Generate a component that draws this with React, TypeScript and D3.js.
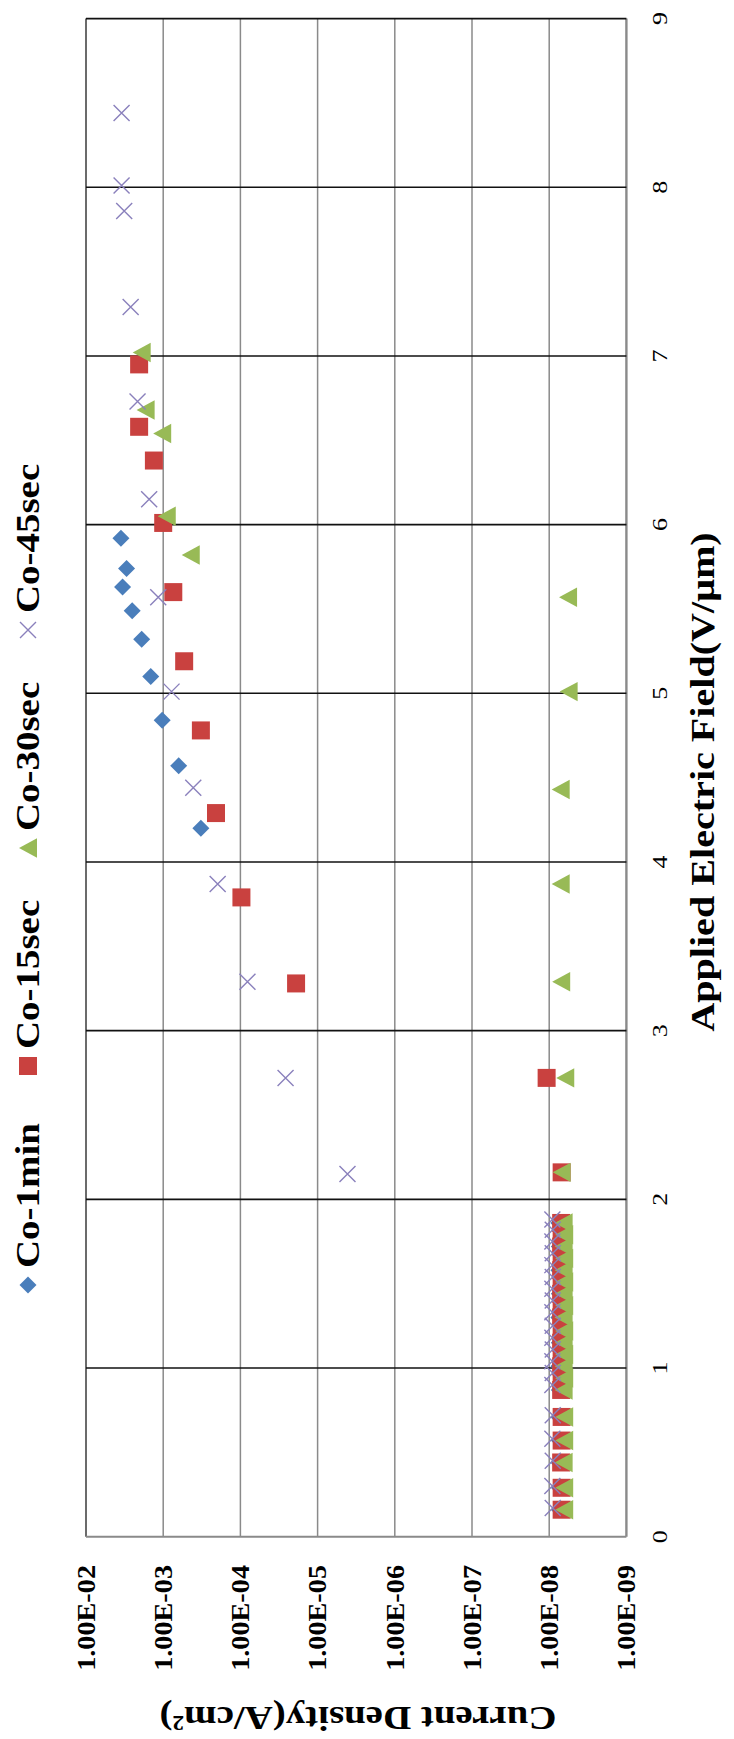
import React, { useEffect } from 'react';
import * as d3 from 'd3';

// Field emission data, Co samples (field V/um, current density A/cm2)
// picture is the Excel chart turned 90 degrees counter-clockwise
const seriesNames = ['Co-1min', 'Co-15sec', 'Co-30sec', 'Co-45sec'];
const seriesColors = ['#4A7EBB', '#C9413F', '#98BA56', '#8A80BC'];

const co1minField = [0.16, 0.29, 0.44, 0.57, 0.71, 0.87, 1.01, 1.15, 1.3, 1.44, 1.58, 1.72, 1.86,
  4.2, 4.57, 4.84, 5.1, 5.32, 5.49, 5.63, 5.74, 5.92];
const co1minJ = [7.4e-9, 7.4e-9, 7.5e-9, 7.4e-9, 7.5e-9, 7.4e-9, 7.5e-9, 7.4e-9, 7.5e-9, 7.4e-9, 7.5e-9, 7.4e-9, 7.5e-9,
  3.25e-4, 6.3e-4, 1.03e-3, 1.45e-3, 1.9e-3, 2.52e-3, 3.36e-3, 2.98e-3, 3.53e-3];

const co15secField = [0.16, 0.29, 0.44, 0.57, 0.71, 0.87, 0.94, 1.01, 1.08, 1.15, 1.22, 1.3, 1.37, 1.44,
  1.51, 1.58, 1.65, 1.72, 1.79, 1.86, 2.16, 2.72, 3.28, 3.79, 4.29, 4.78, 5.19, 5.6, 6.01, 6.38, 6.58, 6.95];
const co15secJ = [6.9e-9, 6.9e-9, 7.0e-9, 6.9e-9, 6.9e-9, 7.0e-9, 6.9e-9, 7.0e-9, 6.9e-9, 7.0e-9, 6.9e-9, 7.0e-9,
  6.9e-9, 7.0e-9, 6.9e-9, 7.0e-9, 6.9e-9, 7.0e-9, 6.9e-9, 7.0e-9, 6.9e-9, 1.08e-8, 1.9e-5, 9.7e-5, 2.07e-4,
  3.25e-4, 5.35e-4, 7.4e-4, 1.0e-3, 1.32e-3, 2.05e-3, 2.05e-3];

const co30secField = [0.16, 0.29, 0.44, 0.57, 0.71, 0.87, 0.94, 1.01, 1.08, 1.15, 1.22, 1.3, 1.37, 1.44,
  1.51, 1.58, 1.65, 1.72, 1.79, 1.86, 2.16, 2.72, 3.29, 3.87, 4.43, 5.01, 5.57, 5.82, 6.05, 6.54, 6.68, 7.02];
const co30secJ = [6.4e-9, 6.4e-9, 6.5e-9, 6.4e-9, 6.4e-9, 6.5e-9, 6.4e-9, 6.5e-9, 6.4e-9, 6.5e-9, 6.4e-9, 6.5e-9,
  6.4e-9, 6.5e-9, 6.4e-9, 6.5e-9, 6.4e-9, 6.5e-9, 6.4e-9, 6.5e-9, 6.9e-9, 6.2e-9, 7.0e-9, 7.1e-9, 7.1e-9,
  5.6e-9, 5.7e-9, 4.4e-4, 9.0e-4, 1.03e-3, 1.69e-3, 1.9e-3];

const co45secField = [0.17, 0.3, 0.45, 0.58, 0.72, 0.9, 0.97, 1.04, 1.11, 1.18, 1.25, 1.33, 1.4, 1.47, 1.54,
  1.61, 1.68, 1.75, 1.82, 1.88, 2.15, 2.72, 3.29, 3.87, 4.44, 5.01, 5.57, 6.15, 6.73, 7.29, 7.86, 8.01, 8.44];
const co45secJ = [9.0e-9, 9.1e-9, 9.0e-9, 9.1e-9, 9.0e-9, 9.1e-9, 9.0e-9, 9.1e-9, 9.0e-9, 9.1e-9, 9.0e-9, 9.1e-9,
  9.0e-9, 9.1e-9, 9.0e-9, 9.1e-9, 9.0e-9, 9.1e-9, 9.0e-9, 9.1e-9, 4.1e-6, 2.6e-5, 8.1e-5, 1.97e-4, 4.08e-4,
  7.8e-4, 1.16e-3, 1.52e-3, 2.15e-3, 2.64e-3, 3.2e-3, 3.46e-3, 3.46e-3];

const fieldTicks = [0, 1, 2, 3, 4, 5, 6, 7, 8, 9];
const jTicks = [1e-2, 1e-3, 1e-4, 1e-5, 1e-6, 1e-7, 1e-8, 1e-9];
const jTickLabels = ['1.00E-02', '1.00E-03', '1.00E-04', '1.00E-05', '1.00E-06', '1.00E-07', '1.00E-08', '1.00E-09'];

const W = 734;
const H = 1739;
const plot = { left: 86, right: 626.4, top: 18.6, bottom: 1536.7 };
const STRETCH = 1.18; // text looks stretched along reading direction
const FONT = '"Liberation Serif", "Times New Roman", serif';

// marker shapes, drawn already turned like the picture
const diamond = {
  draw(ctx, size) {
    const r = Math.sqrt(size) / 2;
    ctx.moveTo(0, -r); ctx.lineTo(r, 0); ctx.lineTo(0, r); ctx.lineTo(-r, 0); ctx.closePath();
  },
};
const square = {
  draw(ctx, size) {
    const r = Math.sqrt(size) / 2;
    ctx.rect(-r, -r, 2 * r, 2 * r);
  },
};
const triLeft = {
  draw(ctx, size) {
    const r = Math.sqrt(size) / 2;
    ctx.moveTo(-r, 0); ctx.lineTo(r, -r * 1.08); ctx.lineTo(r, r * 1.08); ctx.closePath();
  },
};
const cross = {
  draw(ctx, size) {
    const r = Math.sqrt(size) / 2;
    ctx.moveTo(-r, -r); ctx.lineTo(r, r); ctx.moveTo(-r, r); ctx.lineTo(r, -r);
  },
};

const symbols = [
  { type: diamond, size: 17 * 17, stroke: false },
  { type: square, size: 18 * 18, stroke: false },
  { type: triLeft, size: 18 * 18, stroke: false },
  { type: cross, size: 16 * 16, stroke: true },
];

const App = () => {
  useEffect(() => {
    document.body.style.margin = '0';
  }, []);

  const x = d3.scaleLog().domain([1e-2, 1e-9]).range([plot.left, plot.right]);
  const y = d3.scaleLinear().domain([0, 9]).range([plot.bottom, plot.top]);

  const fields = [co1minField, co15secField, co30secField, co45secField];
  const currents = [co1minJ, co15secJ, co30secJ, co45secJ];
  const legendY = [1285, 1066, 848, 630];

  const path = (i) => d3.symbol().type(symbols[i].type).size(symbols[i].size)();

  const mark = (i, key, cx, cy) =>
    symbols[i].stroke ? (
      <path key={key} d={path(i)} transform={`translate(${cx},${cy})`} fill="none"
        stroke={seriesColors[i]} strokeWidth={1.4} />
    ) : (
      <path key={key} d={path(i)} transform={`translate(${cx},${cy})`} fill={seriesColors[i]} />
    );

  return (
    <svg width={W} height={H} style={{ display: 'block', background: '#fff' }} fontFamily={FONT}>
      {/* decade gridlines (grey) */}
      {jTicks.map((t, i) => (
        <line key={`v${i}`} x1={x(t)} x2={x(t)} y1={plot.top} y2={plot.bottom}
          stroke={i === 0 ? '#3a3a3a' : '#8a8a8a'} strokeWidth={i === jTicks.length - 1 ? 2.4 : 1.5} />
      ))}
      {/* field gridlines (black) */}
      {fieldTicks.map((t) => (
        <line key={`h${t}`} x1={plot.left} x2={plot.right} y1={y(t)} y2={y(t)}
          stroke={t === 0 ? '#8a8a8a' : '#111'} strokeWidth={t === 0 ? 2 : 1.6} />
      ))}

      {/* points */}
      {fields.map((fs, i) => (
        <g key={`s${i}`}>
          {fs.map((f, j) => mark(i, j, x(currents[i][j]), y(f)))}
        </g>
      ))}

      {/* current density tick labels */}
      {jTicks.map((t, i) => (
        <text key={`jl${i}`} transform={`translate(${x(t)},1565) rotate(-90) scale(1.13,1)`}
          textAnchor="end" dy="0.35em" fontSize={25} fontWeight="bold">
          {jTickLabels[i]}
        </text>
      ))}

      {/* field tick labels */}
      {fieldTicks.map((t) => (
        <text key={`fl${t}`} transform={`translate(667,${y(t)}) rotate(-90) scale(${STRETCH},1)`}
          textAnchor="middle" fontSize={22}>
          {t}
        </text>
      ))}

      {/* axis titles */}
      <text transform={`translate(714,782) rotate(-90) scale(${STRETCH},1)`}
        textAnchor="middle" fontSize={34} fontWeight="bold">
        Applied Electric Field(V/μm)
      </text>
      <text transform={`translate(358,1707) rotate(180) scale(${STRETCH},1)`}
        textAnchor="middle" fontSize={33} fontWeight="bold">
        Current Density(A/cm²)
      </text>

      {/* legend */}
      {seriesNames.map((name, i) => (
        <g key={`lg${i}`}>
          {mark(i, 'm', 28, legendY[i])}
          <text transform={`translate(39,${legendY[i] - 17}) rotate(-90) scale(${STRETCH},1)`}
            fontSize={33} fontWeight="bold">
            {name}
          </text>
        </g>
      ))}
    </svg>
  );
};

export default App;
